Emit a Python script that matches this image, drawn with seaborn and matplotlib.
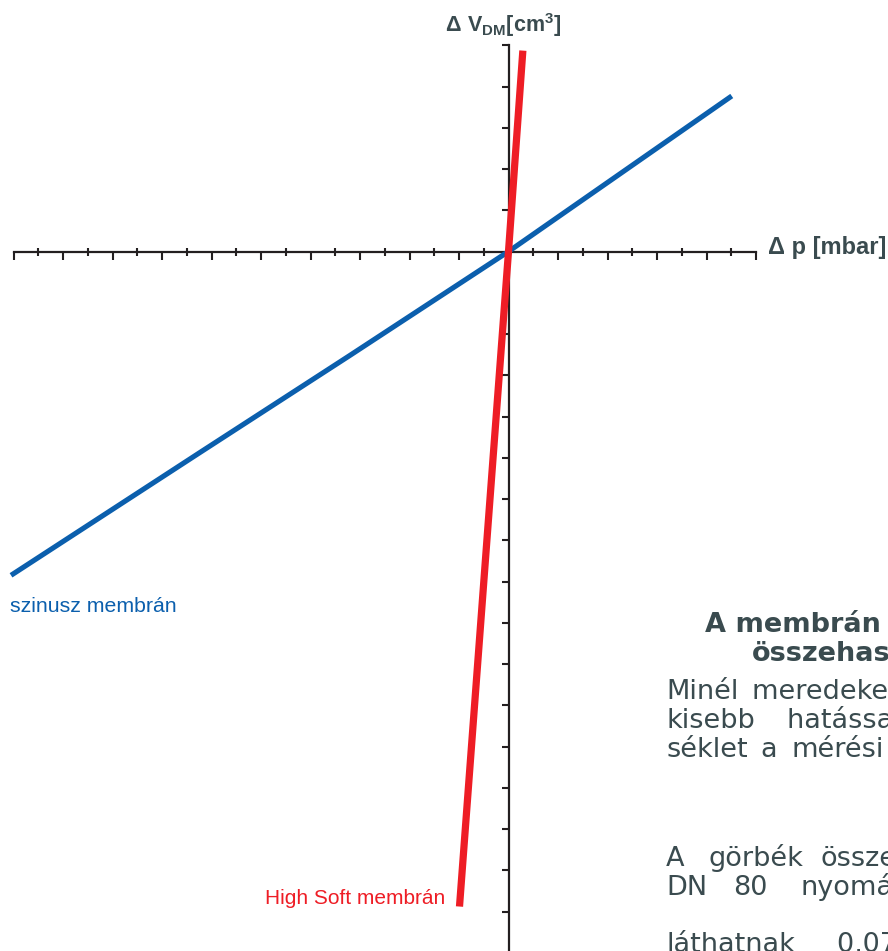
import matplotlib
matplotlib.use("Agg")
import matplotlib.pyplot as plt
import pandas as pd
import seaborn as sns

# values (x: pressure ticks, y: volume ticks)
blue_x = [-20.1, -12.46, -6.41, 0.0, 9.02]
blue_y = [-7.85, -4.87, -2.52, 0.0, 3.77]
red_x = [-1.98, 0.0, 0.58]
red_y = [-15.88, 0.0, 4.87]

series_names = ["szinusz membrán", "High Soft membrán"]
x_major = [v for v in range(-19, 10, 2)]
x_minor = [v for v in range(-20, 11, 2) if v != 0]
y_major = [v for v in range(-16, 6) if v != 0]

title_lines = ["A membrán jelleggörbék", "összehasonlítása"]

BLUE = "#0b5fad"
RED = "#ee1d25"
AXIS = "#231f20"
TEXT = "#3a4b4f"

sns.set_style("white")
plt.rcParams["font.family"] = ["Liberation Sans", "DejaVu Sans"]
plt.rcParams["mathtext.fontset"] = "custom"
plt.rcParams["mathtext.rm"] = "Liberation Sans"
plt.rcParams["mathtext.bf"] = "Liberation Sans:bold"
WIDE = ["DejaVu Sans"]   # wider face for the text block on the right

df = pd.concat([
    pd.DataFrame({"dp": blue_x, "dv": blue_y, "membran": series_names[0]}),
    pd.DataFrame({"dp": red_x, "dv": red_y, "membran": series_names[1]}),
])

W, H = 888, 951
px0, py0 = 508.5, 251.5      # pixel of the origin
sx, sy = 24.75, 41.25        # pixels per tick

fig = plt.figure(figsize=(W / 100, H / 100), dpi=100)
ax = fig.add_axes([0, 0, 1, 1])
ax.set_xlim(-px0 / sx, (W - px0) / sx)
ax.set_ylim((py0 - H) / sy, py0 / sy)

sns.lineplot(data=df, x="dp", y="dv", hue="membran", units="membran", estimator=None,
             palette={series_names[0]: BLUE, series_names[1]: RED}, legend=False, ax=ax)
for line, lw in zip(ax.get_lines(), [3.7, 5.2]):
    line.set_linewidth(lw)
    line.set_solid_capstyle("butt")
    line.set_zorder(3)

for side in ["top", "right"]:
    ax.spines[side].set_visible(False)
ax.spines["left"].set_position(("data", 0))
ax.spines["bottom"].set_position(("data", 0))
ax.spines["bottom"].set_bounds(-20, 10)
ax.spines["left"].set_bounds((py0 - H) / sy, 5)
for side in ["left", "bottom"]:
    ax.spines[side].set_color(AXIS)
    ax.spines[side].set_linewidth(1.6)
    ax.spines[side].set_zorder(1)

ax.set_xticks(x_major)
ax.set_xticks(x_minor, minor=True)
ax.set_yticks(y_major)
ax.set_xticklabels([])
ax.set_yticklabels([])
ax.tick_params(axis="x", which="both", bottom=True, top=False)
ax.tick_params(axis="y", which="both", left=True, right=False)
ax.tick_params(axis="x", which="major", direction="inout", length=6, width=1.5, color=AXIS)
ax.tick_params(axis="x", which="minor", direction="out", length=5.5, width=1.5, color=AXIS)
ax.tick_params(axis="y", which="major", direction="out", length=5.3, width=1.5, color=AXIS)
ax.set_xlabel("")
ax.set_ylabel("")


def fx(p):
    return p / W


def fy(p):
    return 1 - p / H


fig.text(fx(445), fy(25), r"$\mathbf{\Delta\ V_{DM}[cm^{3}]}$", color=TEXT, fontsize=15.5,
         va="center", ha="left")
fig.text(fx(768), fy(248), "Δ p [mbar]", color=TEXT, fontsize=17, fontweight="bold",
         va="center", ha="left")

fig.text(fx(10), fy(606), series_names[0], color=BLUE, fontsize=15.3, va="center", ha="left")
fig.text(fx(445), fy(899), series_names[1], color=RED, fontsize=15, va="center", ha="right")

fig.text(fx(705), fy(632), title_lines[0], color=TEXT, fontsize=19.5, fontweight="bold",
         family=WIDE, va="baseline", ha="left")
fig.text(fx(752), fy(661), title_lines[1], color=TEXT, fontsize=19.5, fontweight="bold",
         family=WIDE, va="baseline", ha="left")

# justified body text, clipped by the right edge
body = [
    (699, [(666, "Minél"), (752, "meredekebb a görbe, annál")]),
    (728, [(666, "kisebb"), (787, "hatással van a hőmér-")]),
    (757, [(666, "séklet"), (760, "a"), (791, "mérési"), (900, "eredményre.")]),
    (866, [(666, "A"), (708, "görbék"), (820, "összehasonlításából")]),
    (895, [(666, "DN"), (733, "80"), (800, "nyomásmérőnél")]),
    (952, [(666, "láthatnak"), (837, "0,07 mbar")]),
]
for base, words in body:
    for x, w in words:
        fig.text(fx(x), fy(base), w, color=TEXT, fontsize=19.5, family=WIDE,
                 va="baseline", ha="left")

fig.savefig("out.png", dpi=100)
